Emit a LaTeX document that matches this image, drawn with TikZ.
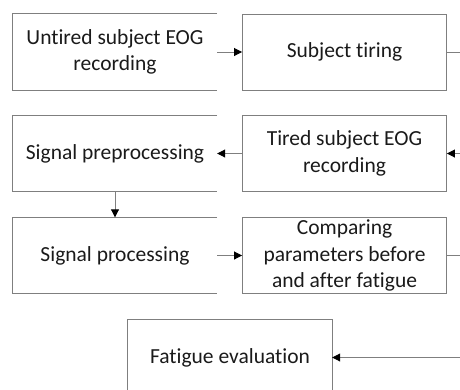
\documentclass[tikz,border=0pt]{standalone}
\usepackage{fontspec}
\setmainfont{Carlito}[Ligatures=NoCommon]
\usetikzlibrary{arrows.meta}
\definecolor{edgegray}{HTML}{7F7F7F}
\definecolor{txt}{HTML}{1A1A1A}
\tikzset{
  box/.style={minimum width=204pt, minimum height=76pt, inner sep=0pt, align=center,
    font=\fontsize{21.5pt}{26.5pt}\selectfont, text=txt},
  framed/.style={box, draw=edgegray, line width=0.9pt},
  openframe/.style={draw=edgegray, line width=0.9pt},
  conn/.style={draw=edgegray, line width=0.9pt, -{Triangle[length=8pt,width=8pt,fill=black,color=black]}}
}
\begin{document}
\begin{tikzpicture}[x=1pt,y=-1pt]
\useasboundingbox (0,0) rectangle (460,389);
\clip (0,0) rectangle (460,389);
% nodes
\node[box] (a) at (115,52) {Untired subject EOG\\recording};
\node[framed] (b) at (344.5,52) {Subject tiring};
\node[box] (c) at (115,153.5) {Signal preprocessing};
\node[framed] (d) at (344.5,153.5) {Tired subject EOG\\recording};
\node[box] (e) at (115,255.5) {Signal processing};
\node[framed] (f) at (344.5,255.5) {Comparing\\parameters before\\and after fatigue};
\node[box] (g) at (230,357.5) {Fatigue evaluation};
% open frames (left boxes lack right border)
\draw[openframe] (a.north east) -- (a.north west) -- (a.south west) -- (a.south east);
\draw[openframe] (c.north east) -- (c.north west) -- (c.south west) -- (c.south east);
\draw[openframe] (e.north east) -- (e.north west) -- (e.south west) -- (e.south east);
\draw[openframe] (g.south west) -- (g.north west) -- (g.north east) -- (g.south east);
% connectors
\coordinate (r1) at (475,52);
\coordinate (r2) at (475,153.5);
\coordinate (r3) at (475,255.5);
\coordinate (r4) at (475,357.5);
\draw[conn] (a.east) -- (b.west);
\draw[conn] (b.east) -- (r1) -- (r2) -- (d.east);
\draw[conn] (d.west) -- (c.east);
\draw[conn] (c.south) -- (e.north);
\draw[conn] (e.east) -- (f.west);
\draw[conn] (f.east) -- (r3) -- (r4) -- (g.east);
\end{tikzpicture}
\end{document}
